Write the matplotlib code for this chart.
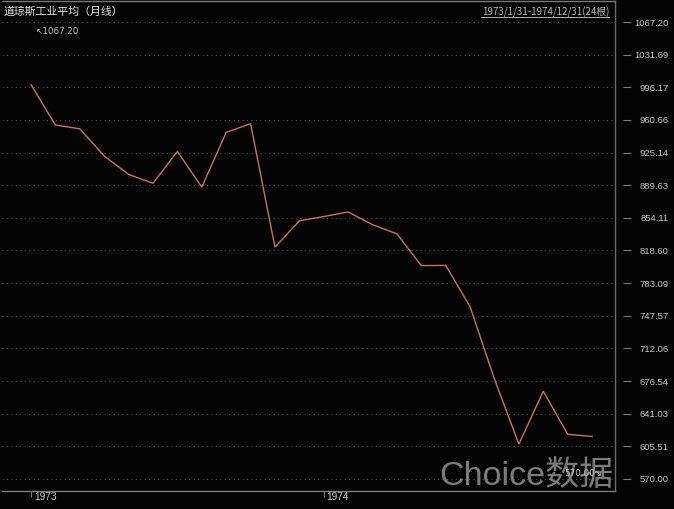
import matplotlib
matplotlib.use('Agg')
import matplotlib.pyplot as plt
from matplotlib.lines import Line2D
from matplotlib.transforms import ScaledTranslation

plt.rcParams['font.family'] = ['Liberation Sans', 'Noto Sans CJK SC', 'DejaVu Sans']

# monthly closes of the Dow Jones Industrial Average, 1973-01 .. 1974-12
months = list(range(24))
closes = [999.02, 955.07, 951.01, 921.43, 901.41, 891.71,
          926.40, 887.57, 947.10, 956.58, 822.25, 850.86,
          855.55, 860.53, 846.68, 836.75, 802.17, 802.41,
          757.43, 678.58, 607.87, 665.52, 618.66, 616.24]
ytick_vals = [1067.20, 1031.69, 996.17, 960.66, 925.14, 889.63, 854.11,
              818.60, 783.09, 747.57, 712.06, 676.54, 641.03, 605.51, 570.00]
year_ticks = [0, 12]
year_labels = ['1973', '1974']
title = '道琼斯工业平均（月线）'
range_text = '1973/1/31-1974/12/31(24根)'

W, H = 674, 509
fig = plt.figure(figsize=(W / 100, H / 100), dpi=100, facecolor='#030303')
# axes box in pixels: left 2, right 615, top 1, bottom 491
ax = fig.add_axes([2 / W, 18 / H, 613 / W, 490 / H], facecolor='#030303')

ax.plot(months, closes, color='#c87070', lw=1.0, solid_joinstyle='miter')

ax.set_ylim(556.94, 1090.05)
ax.set_xlim(-1.19, 23.94)

for v in ytick_vals:
    ax.axhline(v, color='#555555', lw=0.8, ls=(0, (1, 3)), zorder=0)

ax.yaxis.tick_right()
ax.set_yticks(ytick_vals)
ax.set_yticklabels([f'{v:.2f}' for v in ytick_vals])
ax.spines['right'].set_position(('outward', 6))
ax.spines['right'].set_color('none')
ax.tick_params(axis='y', length=6, width=0.8, color='#7a7a7a',
               labelcolor='#c8c8c8', labelsize=6.8, pad=3)
# right-align the price labels at x ~ 666 px
rshift = ScaledTranslation(33 / 100, 0, fig.dpi_scale_trans)
for t in ax.yaxis.get_major_ticks():
    t.label2.set_horizontalalignment('right')
    t.label2.set_transform(t.label2.get_transform() + rshift)
ax.add_line(Line2D([1, 1], [0, 1], transform=ax.transAxes, color='#6a6a6a',
                   lw=1, clip_on=False))

ax.set_xticks(year_ticks)
ax.set_xticklabels(year_labels, ha='left')
ax.tick_params(axis='x', length=4, width=0.8, color='#7a7a7a',
               labelcolor='#c8c8c8', labelsize=7.3, pad=-3.5)
shift = ScaledTranslation(3 / 100, 0, fig.dpi_scale_trans)
for lab in ax.get_xticklabels():
    lab.set_transform(lab.get_transform() + shift)

ax.spines['left'].set_visible(False)
for s in ['bottom', 'top']:
    ax.spines[s].set_color('#7a7a7a')
    ax.spines[s].set_linewidth(1)

# header texts
fig.text(3 / W, 1 - 12 / H, title, color='#e6e6e6', fontsize=7.8,
         va='center', ha='left', family=['Noto Sans CJK SC', 'DejaVu Sans'])
fig.text(609 / W, 1 - 12 / H, range_text, color='#b4b4b4', fontsize=7.0,
         va='center', ha='right', family=['Noto Sans CJK SC', 'DejaVu Sans'])
fig.add_artist(Line2D([481 / W, 609 / W], [1 - 17 / H, 1 - 17 / H],
                      color='#b4b4b4', lw=0.7))

# max / min markers
ax.annotate('↖1067.20', xy=(0.2, 1067.2), xytext=(36 / W, 1 - 31 / H),
            textcoords='figure fraction', color='#c0c0c0', fontsize=6.3,
            va='center', ha='left', family=['DejaVu Sans'])
fig.text(602 / W, 1 - 474 / H, '570.00↘', color='#c0c0c0', fontsize=6.3,
         va='center', ha='right', family=['DejaVu Sans'], zorder=5)

# watermark
fig.text(439 / W, 24 / H, 'Choice数据', color='#8a8a8a', alpha=0.9,
         fontsize=24.5, va='baseline', ha='left')

fig.savefig('out.png', dpi=100, facecolor=fig.get_facecolor())
